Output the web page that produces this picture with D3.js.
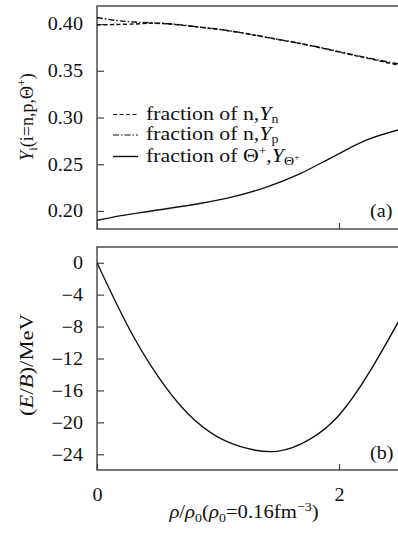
<!DOCTYPE html>
<meta charset="utf-8">
<style>
body { margin: 0; background: #fff; }
text { font-family: "Liberation Serif", "Times New Roman", serif; fill: #111; }
.frame { fill: none; stroke: #333; stroke-width: 1.3px; }
.curve { fill: none; stroke: #111; stroke-width: 1.4px; }
</style>
<body>
<script src="https://d3js.org/d3.v7.min.js"></script>
<script>

// ---- data ----
var rhoTop = [0, 0.15, 0.3, 0.45, 0.6, 0.85, 1.02, 1.22, 1.43, 1.64, 1.85, 2.05, 2.25, 2.46, 2.5];
var fracN  = [0.399, 0.3995, 0.400, 0.4008, 0.400, 0.3965, 0.394, 0.390, 0.385, 0.380, 0.3745, 0.3686, 0.363, 0.357, 0.3565];
var fracP  = [0.407, 0.404, 0.4022, 0.4012, 0.4003, 0.3967, 0.3942, 0.3902, 0.3852, 0.3802, 0.3748, 0.369, 0.3635, 0.358, 0.3572];

var rhoTheta  = [0, 0.2, 0.45, 0.85, 1.12, 1.4, 1.68, 1.95, 2.23, 2.5];
var fracTheta = [0.190, 0.195, 0.200, 0.208, 0.215, 0.2255, 0.240, 0.258, 0.276, 0.287];

var rhoE   = [0, 0.25, 0.5, 0.75, 1.0, 1.25, 1.5, 1.75, 2.0, 2.25, 2.5];
var energy = [0, -7.8, -14.15, -18.9, -21.85, -23.3, -23.6, -22.2, -19.1, -13.75, -7.15];

var topTicks = [0.20, 0.25, 0.30, 0.35, 0.40];
var botTicks = [0, -4, -8, -12, -16, -20, -24];
var xTicks = [0, 2];

// ---- layout ----
var W = 398, H = 535;
var left = 97, right = 399.5;
var topPanel = {y0: 6, y1: 229};
var botPanel = {y0: 247, y1: 470};
var sx = 1.12; // glyphs in the source look a bit wide

var svg = d3.select("body").append("svg")
    .attr("width", W)
    .attr("height", H);

var x = d3.scaleLinear().domain([0, 2.5]).range([left, right]);
var yTop = d3.scaleLinear().domain([0.1807, 0.4193]).range([topPanel.y1, topPanel.y0]);
var yBot = d3.scaleLinear().domain([-25.97, 1.97]).range([botPanel.y1, botPanel.y0]);

function zip(xs, ys) { return xs.map(function(v, i) { return [v, ys[i]]; }); }

function yAxisFor(scale, ticks, fmt) {
    return d3.axisLeft(scale)
        .tickValues(ticks)
        .tickFormat(fmt)
        .tickSizeInner(-7)
        .tickSizeOuter(0)
        .tickPadding(12.5);
}

function styleAxis(g) {
    g.select(".domain").remove();
    g.selectAll("line").attr("stroke", "#444").attr("stroke-width", 1.2);
    g.selectAll("text")
        .attr("font-size", 18)
        .attr("font-family", null)
        .attr("transform", "scale(" + sx + ",1)");
}

function panel(p, yScale, ticks, fmt) {
    svg.append("rect").attr("class", "frame")
        .attr("x", left).attr("y", p.y0)
        .attr("width", right - left).attr("height", p.y1 - p.y0);

    svg.append("g")
        .attr("transform", "translate(" + left + ",0)")
        .call(yAxisFor(yScale, ticks, fmt))
        .call(styleAxis);

    // small inward ticks at the bottom
    svg.append("g")
        .attr("transform", "translate(0," + p.y1 + ")")
        .call(d3.axisBottom(x).tickValues(xTicks).tickFormat("").tickSizeInner(-6).tickSizeOuter(0))
        .call(styleAxis);
}

panel(topPanel, yTop, topTicks, d3.format(".2f"));
panel(botPanel, yBot, botTicks, d3.format("d"));

// x tick labels under the lower panel
svg.append("g")
    .attr("transform", "translate(0," + botPanel.y1 + ")")
    .call(d3.axisBottom(x).tickValues(xTicks).tickFormat(d3.format("d")).tickSize(0).tickPadding(18))
    .call(styleAxis);

// ---- curves ----
var lineTop = d3.line()
    .x(function(d) { return x(d[0]); })
    .y(function(d) { return yTop(d[1]); })
    .curve(d3.curveCatmullRom.alpha(0.5));

var lineBot = d3.line()
    .x(function(d) { return x(d[0]); })
    .y(function(d) { return yBot(d[1]); })
    .curve(d3.curveNatural);

svg.append("defs").append("clipPath").attr("id", "clipTop")
    .append("rect").attr("x", left).attr("y", topPanel.y0)
    .attr("width", right - left).attr("height", topPanel.y1 - topPanel.y0);
svg.select("defs").append("clipPath").attr("id", "clipBot")
    .append("rect").attr("x", left).attr("y", botPanel.y0)
    .attr("width", right - left).attr("height", botPanel.y1 - botPanel.y0);

var dashN = "4,2.5", dashP = "6,2,1.5,2";

var gTop = svg.append("g").attr("clip-path", "url(#clipTop)");
gTop.append("path").attr("class", "curve").attr("stroke-width", 1.1)
    .attr("stroke-dasharray", dashN).attr("d", lineTop(zip(rhoTop, fracN)));
gTop.append("path").attr("class", "curve").attr("stroke-width", 1.1)
    .attr("stroke-dasharray", dashP).attr("d", lineTop(zip(rhoTop, fracP)));
gTop.append("path").attr("class", "curve")
    .attr("d", lineTop(zip(rhoTheta, fracTheta)));

svg.append("g").attr("clip-path", "url(#clipBot)")
    .append("path").attr("class", "curve")
    .attr("d", lineBot(zip(rhoE, energy)));

// ---- legend ----
var legend = [
    {dash: dashN, w: 1.1, base: 119.5, label: "n", sub: "n"},
    {dash: dashP, w: 1.1, base: 140, label: "n", sub: "p"},
    {dash: null, w: 1.4, base: 161.5, label: "Θ", sub: "Θ"}
];

legend.forEach(function(d, i) {
    svg.append("line")
        .attr("x1", 113).attr("x2", 138)
        .attr("y1", d.base - 5).attr("y2", d.base - 5)
        .attr("stroke", "#111").attr("stroke-width", d.w)
        .attr("stroke-dasharray", d.dash);

    var t = svg.append("text")
        .attr("transform", "translate(146," + d.base + ") scale(" + sx + ",1)")
        .attr("font-size", 19.5);
    t.append("tspan").text("fraction of " + d.label);
    if (i == 2) t.append("tspan").attr("font-size", 12).attr("dy", -7).text("+");
    t.append("tspan").attr("dy", i == 2 ? 7 : 0).text(",");
    t.append("tspan").attr("font-style", "italic").text("Y");
    t.append("tspan").attr("font-size", 12.5).attr("dy", 3).text(d.sub);
    if (i == 2) t.append("tspan").attr("font-size", 9).attr("dy", -5).text("+");
});

// panel tags
svg.append("text").attr("transform", "translate(370,216.5) scale(" + sx + ",1)")
    .attr("font-size", 18).text("(a)");
svg.append("text").attr("transform", "translate(370,458.5) scale(" + sx + ",1)")
    .attr("font-size", 18).text("(b)");

// ---- axis titles ----
var ty = svg.append("text")
    .attr("transform", "translate(33,117) rotate(-90)")
    .attr("text-anchor", "middle")
    .attr("font-size", 18);
ty.append("tspan").attr("font-style", "italic").text("Y");
ty.append("tspan").attr("font-size", 12.5).attr("dy", 4).text("i");
ty.append("tspan").attr("dy", -4).text("(i=n,p,Θ");
ty.append("tspan").attr("font-size", 12).attr("dy", -7).text("+");
ty.append("tspan").attr("dy", 7).text(")");

var te = svg.append("text")
    .attr("transform", "translate(33,365) rotate(-90)")
    .attr("text-anchor", "middle")
    .attr("font-size", 19)
    .attr("textLength", 102)
    .attr("lengthAdjust", "spacingAndGlyphs");
te.append("tspan").text("(");
te.append("tspan").attr("font-style", "italic").text("E");
te.append("tspan").text("/");
te.append("tspan").attr("font-style", "italic").text("B");
te.append("tspan").text(")/MeV");

var tx = svg.append("text")
    .attr("transform", "translate(244,518) scale(" + sx + ",1)")
    .attr("text-anchor", "middle")
    .attr("font-size", 18.5);
tx.append("tspan").attr("font-style", "italic").text("ρ");
tx.append("tspan").text("/");
tx.append("tspan").attr("font-style", "italic").text("ρ");
tx.append("tspan").attr("font-size", 12.5).attr("dy", 4).text("0");
tx.append("tspan").attr("dy", -4).text("(");
tx.append("tspan").attr("font-style", "italic").text("ρ");
tx.append("tspan").attr("font-size", 12.5).attr("dy", 4).text("0");
tx.append("tspan").attr("dy", -4).text("=0.16fm");
tx.append("tspan").attr("font-size", 12.5).attr("dy", -7).text("−3");
tx.append("tspan").attr("dy", 7).text(")");

</script>
</body>
